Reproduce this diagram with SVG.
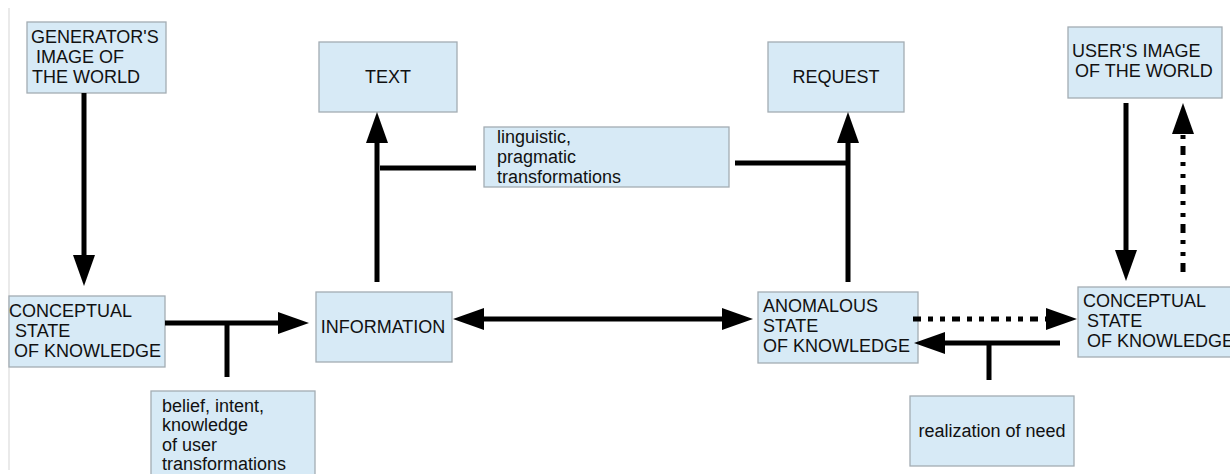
<svg xmlns="http://www.w3.org/2000/svg" width="1230" height="474" viewBox="0 0 1230 474">
<style>
.box{fill:#d7eaf6;stroke:#a3acb3;stroke-width:1.3}
.t{font-family:"Liberation Sans",Arial,sans-serif;font-size:18px;fill:#111}
.c{text-anchor:middle}
.ln{stroke:#000;stroke-width:5;fill:none}
.dh{stroke:#000;stroke-width:5;fill:none;stroke-dasharray:8 7 5 7 5 7}
.dv{stroke:#000;stroke-width:5;fill:none;stroke-dasharray:9 7 4 8 4 7}
</style>
<defs>
<marker id="ah" markerUnits="userSpaceOnUse" markerWidth="31" markerHeight="22" refX="0" refY="11" orient="auto-start-reverse" viewBox="0 0 31 22">
<path d="M0,0 L31,11 L0,22 z" fill="#000"/>
</marker>
</defs>
<rect width="1230" height="474" fill="#fff"/>
<line x1="9" y1="8" x2="9" y2="470" stroke="#dcdcdc" stroke-width="1.2"/>

<g id="generator-image">
<rect class="box" x="27" y="22" width="139" height="71"/>
<text class="t" x="31" y="43">GENERATOR'S</text>
<text class="t" x="36" y="63">IMAGE OF</text>
<text class="t" x="32" y="83">THE WORLD</text>
</g>
<g id="conceptual-left">
<rect class="box" x="9" y="296" width="156" height="71"/>
<text class="t" x="9" y="317">CONCEPTUAL</text>
<text class="t" x="15" y="337">STATE</text>
<text class="t" x="14" y="357">OF KNOWLEDGE</text>
</g>
<g id="belief">
<rect class="box" x="151" y="391" width="164" height="90"/>
<text class="t" x="162" y="412">belief, intent,</text>
<text class="t" x="162" y="431">knowledge</text>
<text class="t" x="162" y="451">of user</text>
<text class="t" x="162" y="470">transformations</text>
</g>
<g id="information">
<rect class="box" x="316" y="292" width="136" height="70"/>
<text class="t c" x="383" y="333">INFORMATION</text>
</g>
<g id="text">
<rect class="box" x="319" y="42" width="138" height="70"/>
<text class="t c" x="388" y="83">TEXT</text>
</g>
<g id="linguistic">
<rect class="box" x="484" y="127" width="245" height="60"/>
<text class="t" x="497" y="143">linguistic,</text>
<text class="t" x="497" y="163">pragmatic</text>
<text class="t" x="497" y="183">transformations</text>
</g>
<g id="request">
<rect class="box" x="768" y="42" width="136" height="70"/>
<text class="t c" x="836" y="83">REQUEST</text>
</g>
<g id="anomalous">
<rect class="box" x="758" y="292" width="160" height="71"/>
<text class="t" x="763" y="312">ANOMALOUS</text>
<text class="t" x="763" y="332">STATE</text>
<text class="t" x="763" y="352">OF KNOWLEDGE</text>
</g>
<g id="realization">
<rect class="box" x="910" y="396" width="164" height="70"/>
<text class="t c" x="992" y="437">realization of need</text>
</g>
<g id="user-image">
<rect class="box" x="1068" y="27" width="154" height="71"/>
<text class="t" x="1072" y="57">USER'S IMAGE</text>
<text class="t" x="1075" y="77">OF THE WORLD</text>
</g>
<g id="conceptual-right">
<rect class="box" x="1078" y="287" width="162" height="70"/>
<text class="t" x="1083" y="307">CONCEPTUAL</text>
<text class="t" x="1087" y="327">STATE</text>
<text class="t" x="1087" y="347">OF KNOWLEDGE</text>
</g>

<g id="connectors">
<line class="ln" x1="84" y1="93" x2="84" y2="255" marker-end="url(#ah)"/>
<line class="ln" x1="165" y1="323" x2="278" y2="323" marker-end="url(#ah)"/>
<line class="ln" x1="227" y1="323" x2="227" y2="377"/>
<line class="ln" x1="377" y1="282" x2="377" y2="143" marker-end="url(#ah)"/>
<line class="ln" x1="380" y1="168" x2="476" y2="168"/>
<line class="ln" x1="735" y1="163" x2="848" y2="163"/>
<line class="ln" x1="848" y1="282" x2="848" y2="143" marker-end="url(#ah)"/>
<line class="ln" x1="484" y1="319" x2="722" y2="319" marker-start="url(#ah)" marker-end="url(#ah)"/>
<line class="dh" x1="913" y1="319" x2="1046" y2="319" marker-end="url(#ah)"/>
<line class="ln" x1="1060" y1="343" x2="945" y2="343" marker-end="url(#ah)"/>
<line class="ln" x1="989" y1="343" x2="989" y2="380"/>
<line class="ln" x1="1126" y1="103" x2="1126" y2="250" marker-end="url(#ah)"/>
<line class="dv" x1="1183" y1="272" x2="1183" y2="134" marker-end="url(#ah)"/>
</g>
</svg>
